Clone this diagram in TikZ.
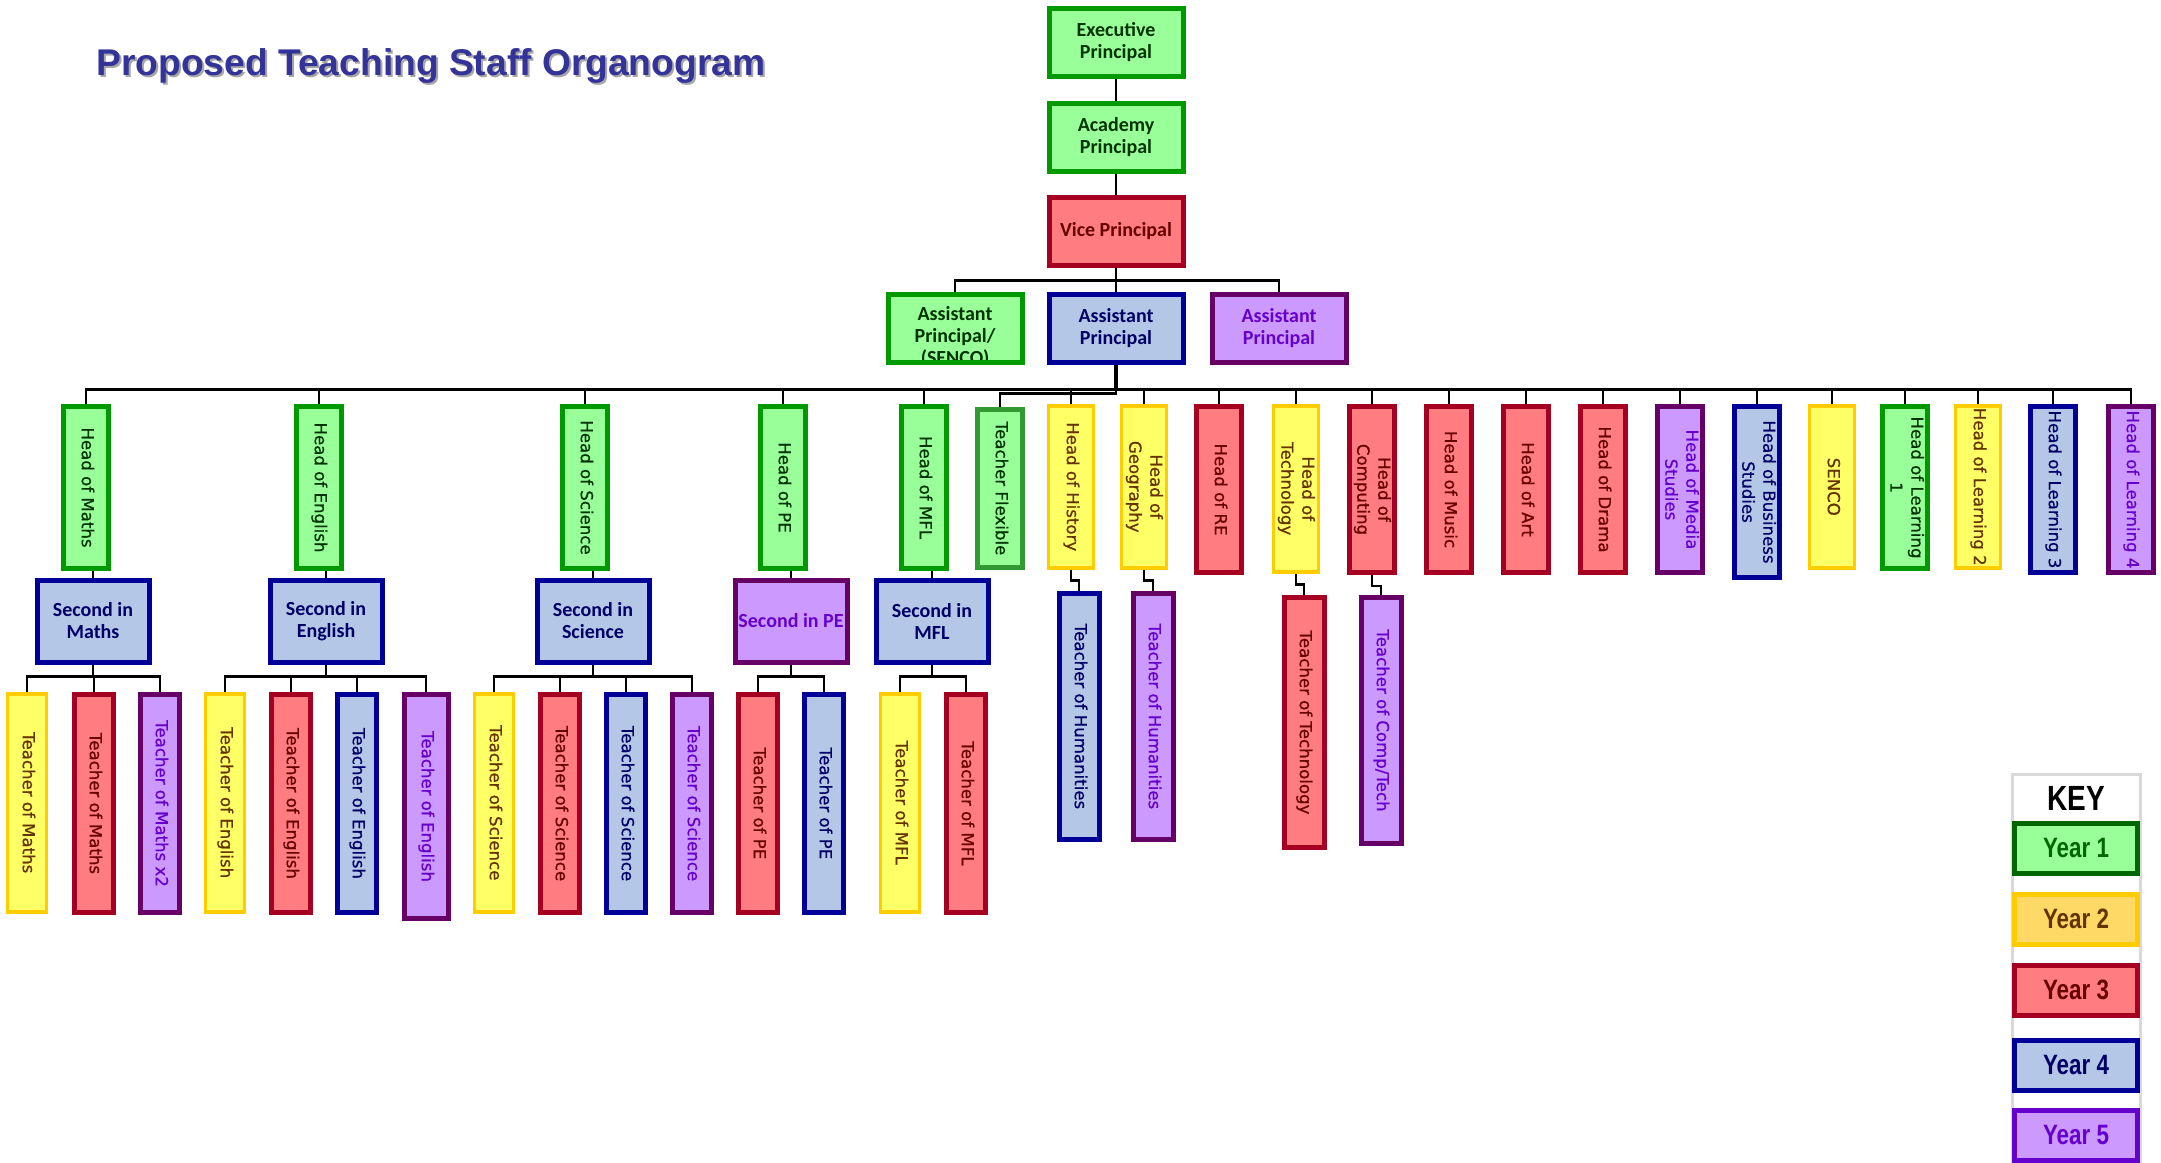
\documentclass[tikz,border=0pt]{standalone}
\usepackage{fontspec}
\setmainfont{Carlito}
\newfontfamily\vfont[FakeBold=0.8]{DejaVu Sans}
\newfontfamily\titlefont{Liberation Sans}
\newfontfamily\keyfont[FakeStretch=0.8]{Liberation Sans}
\usepackage{graphicx}
\usepackage{xcolor}
\usepackage{tikz}

\definecolor{grnfill}{HTML}{99FF99}
\definecolor{grndraw}{HTML}{009900}
\definecolor{grntext}{HTML}{003300}
\definecolor{flexdraw}{HTML}{339933}
\definecolor{ylwfill}{HTML}{FFFF66}
\definecolor{ylwdraw}{HTML}{FFCC00}
\definecolor{ylwtext}{HTML}{663300}
\definecolor{redfill}{HTML}{FF7C80}
\definecolor{reddraw}{HTML}{A50021}
\definecolor{redtext}{HTML}{660000}
\definecolor{blufill}{HTML}{B4C7E7}
\definecolor{bludraw}{HTML}{000099}
\definecolor{blutext}{HTML}{000066}
\definecolor{purfill}{HTML}{CC99FF}
\definecolor{purdraw}{HTML}{660066}
\definecolor{purtext}{HTML}{6600CC}
\definecolor{titleblue}{HTML}{333399}
\definecolor{keyframe}{HTML}{D9D9D9}
\definecolor{keygrn}{HTML}{006600}
\definecolor{keyylw}{HTML}{FFD966}

\newcommand{\vlab}[1]{\rotatebox{-90}{\begin{tabular}{@{}c@{}}#1\end{tabular}}}

\begin{document}
\begin{tikzpicture}[
  x=0.5pt, y=-0.5pt,
  link/.style={draw=black, line width=1.4pt},
  year1/.style={rectangle, draw=grndraw, fill=grnfill, text=grntext, line width=2.5pt},
  flexi/.style={rectangle, draw=flexdraw, fill=grnfill, text=grntext, line width=2.5pt},
  year2/.style={rectangle, draw=ylwdraw, fill=ylwfill, text=ylwtext, line width=1.75pt},
  year3/.style={rectangle, draw=reddraw, fill=redfill, text=redtext, line width=2.5pt},
  year4/.style={rectangle, draw=bludraw, fill=blufill, text=blutext, line width=2.5pt},
  year5/.style={rectangle, draw=purdraw, fill=purfill, text=purtext, line width=2.5pt},
  toprole/.style={
    inner sep=0pt,
    minimum width=67pt,
    minimum height=34pt,
    align=center,
    font=\bfseries\fontsize{10}{11}\selectfont
  },
  headrole/.style={
    anchor=north,
    inner sep=0pt,
    minimum width=22.5pt,
    minimum height=81pt,
    font=\vfont\fontsize{8.3}{10.5}\selectfont
  },
  secondrole/.style={
    inner sep=0pt,
    minimum width=56pt,
    minimum height=41pt,
    align=center,
    font=\bfseries\fontsize{10}{11}\selectfont
  },
  teacherrole/.style={
    anchor=north,
    inner sep=0pt,
    minimum width=19.5pt,
    minimum height=109pt,
    font=\vfont\fontsize{8.3}{10.5}\selectfont
  },
  keyrole/.style={
    inner sep=0pt,
    minimum width=61.5pt,
    minimum height=25pt,
    font=\keyfont\bfseries\fontsize{14}{16}\selectfont
  }
]
\useasboundingbox (0,0) rectangle (2161,1162);

% Title
\node[anchor=base west, inner sep=0pt, text=black!35, font=\titlefont\bfseries\fontsize{18.6}{22}\selectfont] (titleshadow) at (98,77) {Proposed Teaching Staff Organogram};
\node[anchor=base west, inner sep=0pt, text=titleblue, font=\titlefont\bfseries\fontsize{18.6}{22}\selectfont] (title) at (96,75) {Proposed Teaching Staff Organogram};

% Row 1: Leadership spine
\node[year1, toprole] (exec) at (1116,42) {Executive\\Principal};
\node[year1, toprole] (acad) at (1116,137) {Academy\\Principal};
\node[year3, toprole] (vice) at (1116,231) {Vice Principal};

% Row 2: Assistant Principals
\node[year1, toprole, path picture={
    \node[draw=none, fill=none, inner sep=0pt, minimum width=0pt, minimum height=0pt,
      align=center, text=grntext, font=\bfseries\fontsize{10}{11}\selectfont]
      at ([yshift=-4.5pt]path picture bounding box.center) {Assistant\\Principal/\\(SENCO)};
  }] (ap1) at (955,328) {};
\node[year4, toprole] (ap2) at (1116,328) {Assistant\\Principal};
\node[year5, toprole] (ap3) at (1279,328) {Assistant\\Principal};

% Row 3: Heads (y = 404)
\node[year1, headrole] (hmaths) at (86,404) {\vlab{Head of Maths}};
\node[year1, headrole] (heng) at (319,404) {\vlab{Head of English}};
\node[year1, headrole] (hsci) at (585,404) {\vlab{Head of Science}};
\node[year1, headrole] (hpe) at (783,404) {\vlab{Head of PE}};
\node[year1, headrole] (hmfl) at (924,404) {\vlab{Head of MFL}};
\node[flexi, headrole, minimum height=79pt] (flex) at (1000,407) {\vlab{Teacher Flexible}};
\node[year2, headrole] (hhist) at (1071,404) {\vlab{Head of History}};
\node[year2, headrole] (hgeog) at (1144,404) {\vlab{Head of\\Geography}};
\node[year3, headrole, minimum height=83pt] (hre) at (1219,404) {\vlab{Head of RE}};
\node[year2, headrole, minimum height=83pt] (htech) at (1296,404) {\vlab{Head of\\Technology}};
\node[year3, headrole, minimum height=83pt] (hcomp) at (1372,404) {\vlab{Head of\\Computing}};
\node[year3, headrole, minimum height=83pt] (hmusic) at (1449,404) {\vlab{Head of Music}};
\node[year3, headrole, minimum height=83pt] (hart) at (1526,404) {\vlab{Head of Art}};
\node[year3, headrole, minimum height=83pt] (hdrama) at (1603,404) {\vlab{Head of Drama}};
\node[year5, headrole, minimum height=83pt] (hmedia) at (1680,404) {\vlab{Head of Media\\Studies}};
\node[year4, headrole, minimum height=85.5pt] (hbus) at (1757,404) {\vlab{Head of Business\\Studies}};
\node[year2, headrole] (senco) at (1832,404) {\vlab{SENCO}};
\node[year1, headrole] (hl1) at (1905,404) {\vlab{Head of Learning\\1}};
\node[year2, headrole] (hl2) at (1978,404) {\vlab{Head of Learning 2}};
\node[year4, headrole, minimum height=83pt] (hl3) at (2053,404) {\vlab{Head of Learning 3}};
\node[year5, headrole, minimum height=83pt] (hl4) at (2131,404) {\vlab{Head of Learning 4}};

% Row 4: Seconds in department (y = 621)
\node[year4, secondrole] (smaths) at (93,621) {Second in\\Maths};
\node[year4, secondrole] (seng) at (326,621) {Second in\\English};
\node[year4, secondrole] (ssci) at (593,621) {Second in\\Science};
\node[year5, secondrole] (spe) at (791,621) {Second in PE};
\node[year4, secondrole] (smfl) at (932,621) {Second in\\MFL};

% Row 5: Teachers (y = 692)
\node[year2, teacherrole] (tmaths1) at (27,692) {\vlab{Teacher of Maths}};
\node[year3, teacherrole] (tmaths2) at (94,692) {\vlab{Teacher of Maths}};
\node[year5, teacherrole] (tmaths3) at (160,692) {\vlab{Teacher of Maths x2}};
\node[year2, teacherrole] (teng1) at (225,692) {\vlab{Teacher of English}};
\node[year3, teacherrole] (teng2) at (291,692) {\vlab{Teacher of English}};
\node[year4, teacherrole] (teng3) at (357,692) {\vlab{Teacher of English}};
\node[year5, teacherrole, minimum width=22pt, minimum height=112pt] (teng4) at (426,692) {\vlab{Teacher of English}};
\node[year2, teacherrole] (tsci1) at (494,692) {\vlab{Teacher of Science}};
\node[year3, teacherrole] (tsci2) at (560,692) {\vlab{Teacher of Science}};
\node[year4, teacherrole] (tsci3) at (626,692) {\vlab{Teacher of Science}};
\node[year5, teacherrole] (tsci4) at (692,692) {\vlab{Teacher of Science}};
\node[year3, teacherrole] (tpe1) at (758,692) {\vlab{Teacher of PE}};
\node[year4, teacherrole] (tpe2) at (824,692) {\vlab{Teacher of PE}};
\node[year2, teacherrole] (tmfl1) at (900,692) {\vlab{Teacher of MFL}};
\node[year3, teacherrole] (tmfl2) at (966,692) {\vlab{Teacher of MFL}};

% Teachers under humanities and technology heads
\node[year4, teacherrole, minimum width=20pt, minimum height=123pt] (thum1) at (1079,591) {\vlab{Teacher of Humanities}};
\node[year5, teacherrole, minimum width=20pt, minimum height=123pt] (thum2) at (1153,591) {\vlab{Teacher of Humanities}};
\node[year3, teacherrole, minimum width=20pt, minimum height=125pt] (ttech) at (1304,595) {\vlab{Teacher of Technology}};
\node[year5, teacherrole, minimum width=20pt, minimum height=123pt] (tcomp) at (1381,595) {\vlab{Teacher of Comp/Tech}};

% Key
\draw[keyframe, line width=1.5pt] (2012,774) rectangle (2140,1180);
\node[inner sep=0pt, font=\keyfont\bfseries\fontsize{17.5}{20}\selectfont] (keytitle) at (2076,798) {KEY};
\node[year1, keyrole, draw=keygrn, text=keygrn] (key1) at (2076,848) {Year 1};
\node[year2, keyrole, fill=keyylw, line width=2.5pt] (key2) at (2076,919) {Year 2};
\node[year3, keyrole] (key3) at (2076,990) {Year 3};
\node[year4, keyrole] (key4) at (2076,1065) {Year 4};
\node[year5, keyrole, draw=purtext] (key5) at (2076,1135) {Year 5};

% Leadership lines
\draw[link] (exec) -- (acad);
\draw[link] (acad) -- (vice);
\draw[link] (vice) -- (ap2);
\draw[link] (ap1.north) -- ++(0,-11) -| (ap3.north);

% Main bus to the heads
\draw[link, line width=1.8pt] (ap2.south) -- ++(0,25) coordinate (busmid);
\draw[link] (hmaths.north) |- (busmid) -| (hl4.north);
\draw[link] (heng.north) -- (heng.north |- busmid)
  (hsci.north) -- (hsci.north |- busmid)
  (hpe.north) -- (hpe.north |- busmid)
  (hmfl.north) -- (hmfl.north |- busmid)
  (hhist.north) -- (hhist.north |- busmid)
  (hgeog.north) -- (hgeog.north |- busmid)
  (hre.north) -- (hre.north |- busmid)
  (htech.north) -- (htech.north |- busmid)
  (hcomp.north) -- (hcomp.north |- busmid)
  (hmusic.north) -- (hmusic.north |- busmid)
  (hart.north) -- (hart.north |- busmid)
  (hdrama.north) -- (hdrama.north |- busmid)
  (hmedia.north) -- (hmedia.north |- busmid)
  (hbus.north) -- (hbus.north |- busmid)
  (senco.north) -- (senco.north |- busmid)
  (hl1.north) -- (hl1.north |- busmid)
  (hl2.north) -- (hl2.north |- busmid)
  (hl3.north) -- (hl3.north |- busmid);
\draw[link] (ap2.south) -- ++(0,29) -| (flex.north);

% Heads to seconds
\draw[link] (smaths.north) -- (smaths.north |- hmaths.south);
\draw[link] (seng.north) -- (seng.north |- heng.south);
\draw[link] (ssci.north) -- (ssci.north |- hsci.south);
\draw[link] (spe.north) -- (spe.north |- hpe.south);
\draw[link] (smfl.north) -- (smfl.north |- hmfl.south);

% Seconds to teachers
\draw[link] (smaths.south) -- ++(0,12) -| (tmaths1.north)
  (smaths.south) ++(0,12) -| (tmaths2.north)
  (smaths.south) ++(0,12) -| (tmaths3.north);
\draw[link] (seng.south) -- ++(0,12) -| (teng1.north)
  (seng.south) ++(0,12) -| (teng2.north)
  (seng.south) ++(0,12) -| (teng3.north)
  (seng.south) ++(0,12) -| (teng4.north);
\draw[link] (ssci.south) -- ++(0,12) -| (tsci1.north)
  (ssci.south) ++(0,12) -| (tsci2.north)
  (ssci.south) ++(0,12) -| (tsci3.north)
  (ssci.south) ++(0,12) -| (tsci4.north);
\draw[link] (spe.south) -- ++(0,12) -| (tpe1.north)
  (spe.south) ++(0,12) -| (tpe2.north);
\draw[link] (smfl.south) -- ++(0,12) -| (tmfl1.north)
  (smfl.south) ++(0,12) -| (tmfl2.north);

% Heads to their teachers
\draw[link] (hhist.south) -- ++(0,11) -| (thum1.north);
\draw[link] (hgeog.south) -- ++(0,11) -| (thum2.north);
\draw[link] (htech.south) -- ++(0,11) -| (ttech.north);
\draw[link] (hcomp.south) -- ++(0,11) -| (tcomp.north);

\end{tikzpicture}
\end{document}
